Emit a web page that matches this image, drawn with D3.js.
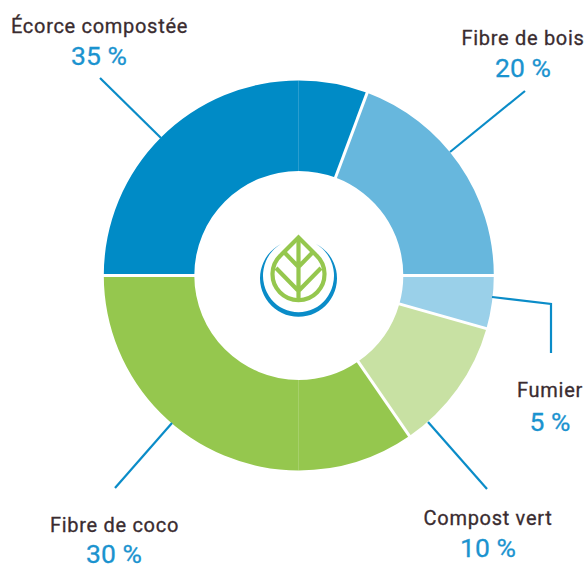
<!DOCTYPE html>
<html>
<head>
<meta charset="utf-8">
<script src="https://cdn.jsdelivr.net/npm/d3@7"></script>
<style>
  html, body { margin: 0; padding: 0; background: #fff; overflow: hidden; }
  text { font-family: "Roboto", sans-serif; text-anchor: middle; }
  .name { font-size: 20px; fill: #3a2c30; stroke: #3a2c30; stroke-width: 0.3px; letter-spacing: 0.7px; }
  .pct { font-size: 26.5px; fill: #1b93cf; stroke: #1b93cf; stroke-width: 0.3px; }
</style>
</head>
<body>
<div id="chart"></div>
<script>
// printed labels
var names = ["Écorce compostée", "Fibre de bois", "Fumier", "Compost vert", "Fibre de coco"];
var percents = [35, 20, 5, 10, 30];

// drawn slices, clockwise from 12 o'clock (bark and coco are split at the vertical)
var sliceGroups = [0, 1, 2, 3, 4, 4, 0];
var sliceValues = [5.7, 19.3, 4.4, 11.0, 9.6, 25, 25];

var colors = ["#008bc6", "#67b7dd", "#9ad0e9", "#c8e1a3", "#95c74e"];

var width = 587;
var height = 564;
var cx = 298.8;
var cy = 275.4;
var outerR = 195;
var innerR = 104.5;

var svg = d3.select("#chart").append("svg")
    .attr("width", width)
    .attr("height", height);

var g = svg.append("g").attr("transform", "translate(" + cx + "," + cy + ")");

var pie = d3.pie().sort(null).value(function(d) { return d; });
var arc = d3.arc().innerRadius(innerR).outerRadius(outerR);
var arcs = pie(sliceValues);

g.selectAll("path.slice")
    .data(arcs)
    .enter().append("path")
    .attr("class", "slice")
    .attr("d", arc)
    .attr("fill", function(d, i) { return colors[sliceGroups[i]]; });

// white gaps only where the material changes
arcs.forEach(function(d, i) {
    var next = (i + 1) % arcs.length;
    var a = d.endAngle;
    if (sliceGroups[i] != sliceGroups[next]) {
        g.append("line")
            .attr("x1", (innerR - 2) * Math.sin(a))
            .attr("y1", -(innerR - 2) * Math.cos(a))
            .attr("x2", (outerR + 2) * Math.sin(a))
            .attr("y2", -(outerR + 2) * Math.cos(a))
            .attr("stroke", "#fff")
            .attr("stroke-width", 3);
    }
});

// leader lines and label placement
var leaders = [
    [[161, 138], [100, 78]],
    [[450, 152], [525, 91]],
    [[492, 297], [551, 304], [551, 353]],
    [[428, 422], [487, 489]],
    [[172, 423], [115, 488]]
];
var labelPos = [
    [99.5, 33, 99, 65],
    [523, 45, 523, 77],
    [550, 397, 550, 431],
    [488, 525, 488, 557],
    [114.5, 532, 114, 563]
];

var line = d3.line();
svg.selectAll("path.leader")
    .data(leaders)
    .enter().append("path")
    .attr("class", "leader")
    .attr("d", line)
    .attr("fill", "none")
    .attr("stroke", "#0a8cc8")
    .attr("stroke-width", 2.2);

names.forEach(function(name, i) {
    var p = labelPos[i];
    svg.append("text").attr("class", "name").attr("x", p[0]).attr("y", p[1]).text(name);
    svg.append("text").attr("class", "pct").attr("x", p[2]).attr("y", p[3]).text(percents[i] + " %");
});

// logo in the middle
var logo = svg.append("g");
logo.append("path")
    .attr("d", "M281,244 A38.5,38.5 0 1,0 316,244 A35.5,36.5 0 1,1 281,244 Z")
    .attr("fill", "#0a8cc8");
logo.append("path")
    .attr("d", "M298.5,237.5 L316,255 A26,26 0 1,1 281,255 Z")
    .attr("fill", "none")
    .attr("stroke", "#95c74e")
    .attr("stroke-width", 4.2)
    .attr("stroke-linejoin", "miter");
logo.append("path")
    .attr("d", "M298.5,238 V299 M285,253 L298.5,267 L312,253 M276,268 L298.5,291 L321,268")
    .attr("fill", "none")
    .attr("stroke", "#95c74e")
    .attr("stroke-width", 4.2);
</script>
</body>
</html>
